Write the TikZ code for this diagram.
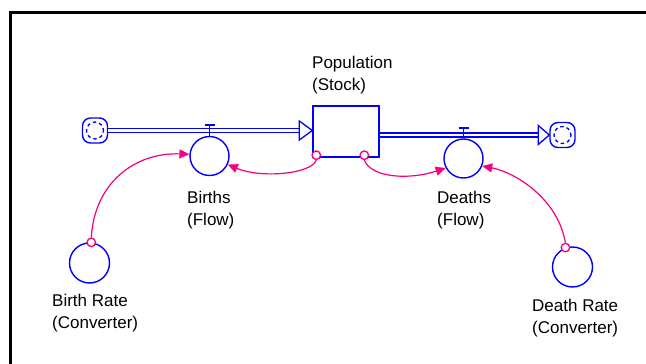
\documentclass[tikz,border=0pt]{standalone}
\usepackage{fontspec}
\setmainfont{Liberation Sans}
\usetikzlibrary{arrows.meta,calc}
\definecolor{flowblue}{RGB}{0,0,255}
\definecolor{linkpink}{RGB}{245,0,125}

\begin{document}
\begin{tikzpicture}[x=1pt,y=-1pt,
  stockbox/.style={draw=flowblue, line width=1.4pt, minimum width=66pt, minimum height=51pt, inner sep=0},
  flowcirc/.style={circle, draw=flowblue, line width=1.4pt, minimum size=39pt, inner sep=0},
  convcirc/.style={circle, draw=flowblue, line width=1.4pt, minimum size=40pt, inner sep=0},
  cloudbox/.style={draw=flowblue, line width=1.4pt, rounded corners=8pt, minimum size=25pt, inner sep=0,
    path picture={\draw[flowblue, line width=1.3pt, dash pattern=on 3.5pt off 3pt, dash phase=1pt]
      (path picture bounding box.center) circle[radius=8.5pt];}},
  pipe/.style={draw=flowblue, double=white, double distance=2.6pt, line width=1.4pt},
  pipehead/.style={draw=flowblue, fill=white, line width=1.3pt, line join=miter},
  valve/.style={draw=flowblue, line width=1.4pt},
  port/.style={circle, draw=linkpink, fill=white, line width=1.3pt, minimum size=8.5pt, inner sep=0},
  link/.style={draw=linkpink, line width=1.2pt, -{Triangle[length=10pt,width=9pt]}},
  lbl/.style={anchor=north west, inner sep=0, align=left, font=\fontsize{17}{22}\selectfont}
]
% canvas and frame
\fill[white] (0,0) rectangle (646,364);
\useasboundingbox (0,0) rectangle (646,364);
\draw[line width=3pt] (10.5,364) -- (10.5,12.5) -- (646,12.5);

% stock, clouds, flows, converters
\node[stockbox] (stock) at (346,131.5) {};
\node[cloudbox] (cloudL) at (95,130.5) {};
\node[cloudbox] (cloudR) at (562.5,135) {};
\node[flowcirc] (births) at (209.5,156) {};
\node[flowcirc] (deaths) at (463.5,158.5) {};
\node[convcirc] (brate) at (89.5,263) {};
\node[convcirc] (drate) at (572.5,267) {};

% pipes with open heads
\draw[pipe] (cloudL.east) -- ($(stock.west)+(-12,-1)$);
\draw[pipehead] ($(stock.west)+(0,-1)$) -- ++(-13,-9.5) -- ++(0,19) -- cycle;
\draw[pipe] ($(stock.east)+(0,3.5)$) -- ($(cloudR.west)+(-11,0)$);
\draw[pipehead] (cloudR.west) -- ++(-11,-9.5) -- ++(0,19) -- cycle;

% valves
\draw[valve] (births.north) -- ++(0,-11) ++(-5,0) -- ++(10,0);
\draw[valve] (deaths.north) -- ++(0,-10.5) ++(-5,0) -- ++(10,0);

% connector ports
\node[port] (sp1) at ($(stock.south west)+(4,-2.5)$) {};
\node[port] (sp2) at ($(stock.south west)+(52,-2.5)$) {};
\node[port] (brp) at (brate.85) {};
\node[port] (drp) at (drate.110) {};

% connectors
\draw[link] (brp.north) .. controls ($(brp.north)+(3,-54)$) and ($(births.175)+(-55,-2)$) .. (births.175);
\draw[link] (sp1.south) .. controls ($(sp1.south)+(-5,14)$) and ($(births.-25)+(33,14)$) .. (births.-25);
\draw[link] (sp2.south) .. controls ($(sp2.south)+(7,18)$) and ($(deaths.-152)+(-36,12)$) .. (deaths.-152);
\draw[link] (drp.north) .. controls ($(drp.north)+(-8,-45)$) and ($(deaths.-22)+(32,6)$) .. (deaths.-22);

% labels
\node[lbl] (stocklbl) at (312,55.5) {Population\\(Stock)};
\node[lbl] (birthslbl) at (187,190.5) {Births\\(Flow)};
\node[lbl] (deathslbl) at (437,191) {Deaths\\(Flow)};
\node[lbl] (bratelbl) at (52,293.5) {Birth Rate\\(Converter)};
\node[lbl] (dratelbl) at (532,298.5) {Death Rate\\(Converter)};
\end{tikzpicture}
\end{document}
